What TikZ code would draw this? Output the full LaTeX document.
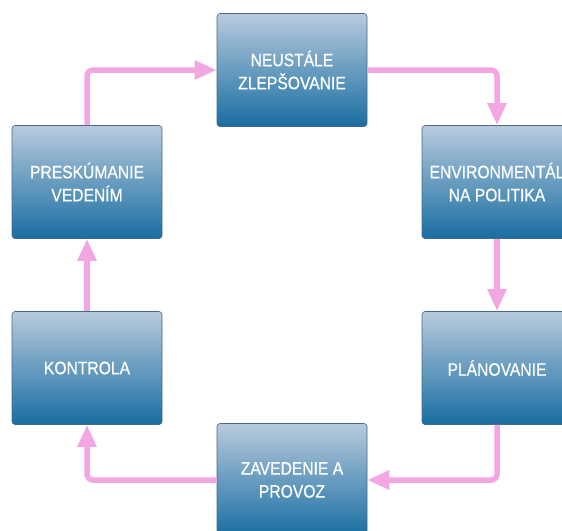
\documentclass[tikz,border=0pt]{standalone}
\usepackage{fontspec}
\setmainfont{Liberation Sans}[FakeStretch=0.87, FakeBold=0.6]
\usepackage{tikz}
\usetikzlibrary{arrows.meta}
\definecolor{boxtop}{RGB}{184,202,221}
\definecolor{boxbot}{RGB}{24,110,162}
\definecolor{boxline}{RGB}{70,105,135}
\definecolor{arrowpink}{RGB}{243,166,227}

\begin{document}
\begin{tikzpicture}[x=1pt, y=-1pt]
\tikzstyle{every node} = [rectangle, rounded corners=3pt, minimum width=150pt, minimum height=113pt, top color=boxtop, bottom color=boxbot, draw=boxline, line width=0.6pt, text=white, align=center, font=\fontsize{18}{23}\selectfont]
\tikzstyle{arr} = [arrowpink, line width=5.5pt, rounded corners=6pt, -{Triangle[width=18pt,length=22pt]}]
\clip (0,0) rectangle (562,530);
\node (zlepsovanie) at (292,70) {NEUSTÁLE\\ZLEPŠOVANIE};
\node (politika) at (497,182) {ENVIRONMENTÁL\\NA POLITIKA};
\node (planovanie) at (497,368) {PLÁNOVANIE};
\node (zavedenie) at (292,480) {ZAVEDENIE A\\PROVOZ};
\node (kontrola) at (87,368) {KONTROLA};
\node (preskumanie) at (87,182) {PRESKÚMANIE\\VEDENÍM};
\draw [arr] (zlepsovanie.east) -| (politika.north);
\draw [arr] (planovanie.south) |- (zavedenie.east);
\draw [arr] (zavedenie.west) -| (kontrola.south);
\draw [arr] (preskumanie.north) |- (zlepsovanie.west);
\foreach \from/\to in {politika/planovanie, kontrola/preskumanie}
\draw [arr] (\from) -- (\to);
\end{tikzpicture}
\end{document}
